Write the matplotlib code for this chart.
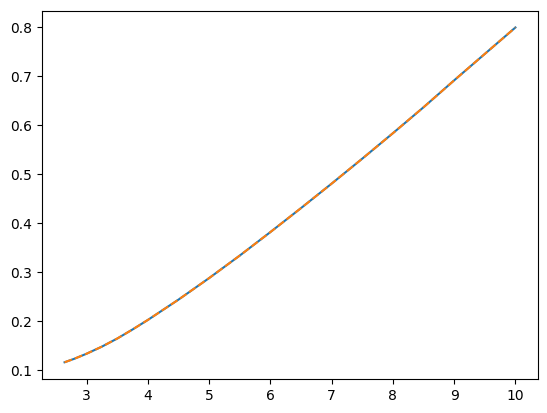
import matplotlib
matplotlib.use("Agg")
import matplotlib.pyplot as plt

# values
x = [2.64, 2.8, 3.0, 3.25, 3.5, 3.75, 4.0, 4.5, 5.0, 5.5, 6.0, 6.5, 7.0, 7.5,
     8.0, 8.5, 9.0, 9.5, 10.0]
y_solid = [0.116, 0.1232, 0.1335, 0.148, 0.1645, 0.183, 0.2025, 0.244, 0.288,
           0.334, 0.382, 0.431, 0.481, 0.532, 0.584, 0.637, 0.692, 0.746, 0.800]
y_dashed = [0.116, 0.1232, 0.1335, 0.148, 0.1645, 0.183, 0.2025, 0.244, 0.288,
            0.334, 0.382, 0.431, 0.481, 0.532, 0.584, 0.637, 0.692, 0.746, 0.800]

fig = plt.figure(figsize=(5.47, 4.13), dpi=100)
ax = fig.add_axes([0.0768, 0.0823, 0.9067, 0.8917])

ax.plot(x, y_solid, color='C0')
ax.plot(x, y_dashed, color='C1', linestyle='--')

fig.savefig('out.png', dpi=100)
